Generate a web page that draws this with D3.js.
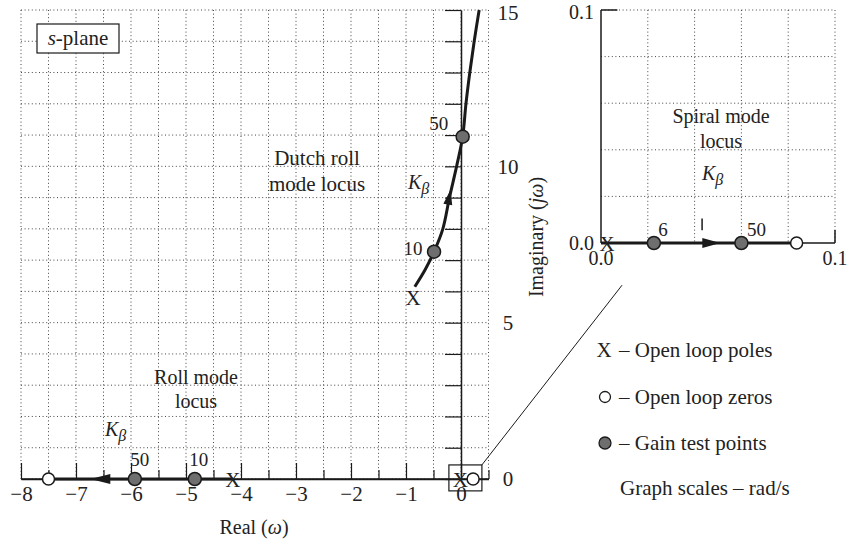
<!DOCTYPE html>
<html>
<head>
<meta charset="utf-8">
<script src="https://cdn.jsdelivr.net/npm/d3@7/dist/d3.min.js"></script>
<style>
  html, body { margin: 0; padding: 0; background: #fff; }
  svg { display: block; }
  text { font-family: "Liberation Serif", "Times New Roman", serif; fill: #222; }
</style>
</head>
<body>
<svg id="chart" width="856" height="543"></svg>
<script>
// ---------- data ----------
const xTickValues = [-8, -7, -6, -5, -4, -3, -2, -1, 0];
const xMinorValues = [-7.5, -6.5, -5.5, -4.5, -3.5, -2.5, -1.5, -0.5, 0.5];
const yTickValues = [0, 5, 10, 15];
const yMinorValues = [1, 2, 3, 4, 6, 7, 8, 9, 11, 12, 13, 14];
const xGridValues = d3.range(-8, 0.51, 0.5);
const yGridValues = d3.range(0, 15.01, 1);

// Dutch roll mode locus (real, imaginary)
const dutchRollRe = [-0.84, -0.65, -0.49, -0.33, -0.21, -0.08, 0.03, 0.09, 0.16, 0.24, 0.33];
const dutchRollIm = [6.15, 6.7, 7.27, 8.0, 9.0, 10.0, 10.95, 12.0, 13.0, 14.0, 15.0];
// Roll mode locus along real axis
const rollRe = [-7.5, -4.15];
// Main gain test points
const gainRe = [-0.49, 0.03, -5.93, -4.84];
const gainIm = [7.27, 10.95, 0, 0];
const gainLabels = ["10", "50", "50", "10"];
// Open loop poles / zeros (main plot)
const poleRe = [-0.87, -4.15, -0.01];
const poleIm = [5.8, 0, 0];
const zeroRe = [-7.5, 0.22];
const zeroIm = [0, 0];

// Spiral mode inset
const insetTicks = [0.0, 0.1];
const insetGrid = [0, 0.02, 0.04, 0.06, 0.08, 0.1];
const spiralRe = [0, 0.0836];
const spiralGainRe = [0.0226, 0.06];
const spiralGainLabels = ["6", "50"];
const spiralZeroRe = [0.0836];
const spiralPoleRe = [0];

// ---------- scales ----------
const svg = d3.select("#chart");
const x = d3.scaleLinear().domain([-8, 0.5]).range([21, 488.5]);
const y = d3.scaleLinear().domain([0, 15]).range([479, 10]);
const xi = d3.scaleLinear().domain([0, 0.1]).range([601, 835]);
const yi = d3.scaleLinear().domain([0, 0.1]).range([243, 10]);

const ink = "#1a1a1a";
const dotStyle = sel => sel.attr("stroke", "#444").attr("stroke-width", 1).attr("stroke-dasharray", "1,2.6");

// ---------- main grid ----------
const grid = svg.append("g");
grid.selectAll(".vg").data(xGridValues).join("line")
  .attr("x1", d => x(d)).attr("x2", d => x(d)).attr("y1", y(15)).attr("y2", y(0)).call(dotStyle);
grid.selectAll(".hg").data(yGridValues).join("line")
  .attr("x1", x(-8)).attr("x2", x(0.5)).attr("y1", d => y(d)).attr("y2", d => y(d)).call(dotStyle);

// ---------- main axes ----------
const fmtMinus = d => (d < 0 ? "\u2212" + Math.abs(d) : String(d));
const xAxis = svg.append("g").attr("transform", `translate(0,${y(0)})`)
  .call(d3.axisBottom(x).tickValues(xTickValues).tickSizeInner(-16).tickSizeOuter(0).tickPadding(7).tickFormat(fmtMinus));
xAxis.select(".domain").attr("stroke", ink).attr("stroke-width", 1.5);
xAxis.selectAll(".tick line").attr("stroke", ink).attr("stroke-width", 1.2);
xAxis.selectAll(".tick text").attr("font-size", 21).attr("font-family", "Liberation Serif").attr("fill", "#222");
const xMinor = svg.append("g").attr("transform", `translate(0,${y(0)})`)
  .call(d3.axisBottom(x).tickValues(xMinorValues).tickSizeInner(-9).tickSizeOuter(0).tickFormat(""));
xMinor.select(".domain").remove();
xMinor.selectAll(".tick line").attr("stroke", ink).attr("stroke-width", 1.2);
svg.append("line").attr("x1", x(-8)).attr("x2", x(0.5)).attr("y1", y(0)).attr("y2", y(0))
  .attr("stroke", ink).attr("stroke-width", 1.5);

const yAxis = svg.append("g").attr("transform", `translate(${x(0)},0)`)
  .call(d3.axisRight(y).tickValues(yTickValues.concat(yMinorValues)).tickSizeInner(-16).tickSizeOuter(0).tickPadding(40)
    .tickFormat(d => yTickValues.includes(d) ? String(d) : ""));
yAxis.select(".domain").attr("stroke", ink).attr("stroke-width", 1.5);
yAxis.selectAll(".tick line").attr("stroke", ink).attr("stroke-width", 1.2);
yAxis.selectAll(".tick text").attr("font-size", 21).attr("font-family", "Liberation Serif").attr("fill", "#222")
  .attr("text-anchor", "middle").attr("x", 47).attr("dy", d => d === 15 ? "0.45em" : "0.32em");

// axis titles
const realLabel = svg.append("text").attr("x", 254).attr("y", 534).attr("text-anchor", "middle").attr("font-size", 20);
realLabel.append("tspan").text("Real (");
realLabel.append("tspan").attr("font-style", "italic").text("\u03C9");
realLabel.append("tspan").text(")");

const imagLabel = svg.append("text").attr("transform", "translate(543,237) rotate(-90)").attr("text-anchor", "middle").attr("font-size", 20);
imagLabel.append("tspan").text("Imaginary (");
imagLabel.append("tspan").attr("font-style", "italic").text("j\u03C9");
imagLabel.append("tspan").text(")");

// ---------- s-plane box ----------
svg.append("rect").attr("x", 37).attr("y", 24).attr("width", 82).attr("height", 29)
  .attr("fill", "#fff").attr("stroke", ink).attr("stroke-width", 1.2);
const sp = svg.append("text").attr("x", 78).attr("y", 45).attr("text-anchor", "middle").attr("font-size", 21);
sp.append("tspan").attr("font-style", "italic").text("s");
sp.append("tspan").text("-plane");

// ---------- loci ----------
const lineMain = d3.line().x(d => x(d[0])).y(d => y(d[1])).curve(d3.curveCatmullRom);
svg.append("path").datum(dutchRollRe.map((r, k) => [r, dutchRollIm[k]]))
  .attr("d", lineMain).attr("fill", "none").attr("stroke", ink).attr("stroke-width", 3);
svg.append("path").datum(rollRe.map(r => [r, 0]))
  .attr("d", lineMain).attr("fill", "none").attr("stroke", ink).attr("stroke-width", 3);

// arrows
function arrow(g, x0, y0, x1, y1, len, wid) {
  const a = Math.atan2(y1 - y0, x1 - x0);
  const bx = x1 - len * Math.cos(a), by = y1 - len * Math.sin(a);
  const px = -Math.sin(a) * wid / 2, py = Math.cos(a) * wid / 2;
  g.append("path").attr("d", `M${x1},${y1}L${bx + px},${by + py}L${bx - px},${by - py}Z`).attr("fill", ink);
}
const arrowsMain = [{ from: [-0.27, 8.5], to: [-0.19, 9.25], len: 15, wid: 9 }, { from: [-6.2, 0], to: [-6.74, 0], len: 20, wid: 10 }];
arrowsMain.forEach(a => arrow(svg, x(a.from[0]), y(a.from[1]), x(a.to[0]), y(a.to[1]), a.len, a.wid));

// zoom box and connector
const zoomBox = { re0: -0.22, re1: 0.38, im0: -0.38, im1: 0.45 };
svg.append("rect").attr("x", x(zoomBox.re0)).attr("y", y(zoomBox.im1))
  .attr("width", x(zoomBox.re1) - x(zoomBox.re0)).attr("height", y(zoomBox.im0) - y(zoomBox.im1))
  .attr("fill", "none").attr("stroke", ink).attr("stroke-width", 1.2);
const connectorEnd = [0.009, -0.0181];
svg.append("line").attr("x1", x(zoomBox.re1)).attr("y1", y(zoomBox.im1))
  .attr("x2", xi(connectorEnd[0])).attr("y2", yi(connectorEnd[1])).attr("stroke", ink).attr("stroke-width", 1);

// poles
svg.selectAll(".poleMain").data(poleRe.map((r, k) => [r, poleIm[k]])).join("text")
  .attr("x", d => x(d[0])).attr("y", d => y(d[1])).attr("dy", "0.36em")
  .attr("text-anchor", "middle").attr("font-size", 21).text("X");
// zeros
svg.selectAll(".zeroMain").data(zeroRe.map((r, k) => [r, zeroIm[k]])).join("circle")
  .attr("cx", d => x(d[0])).attr("cy", d => y(d[1])).attr("r", 6)
  .attr("fill", "#fff").attr("stroke", ink).attr("stroke-width", 1.5);
// gain points
svg.selectAll(".gainMain").data(gainRe.map((r, k) => [r, gainIm[k]])).join("circle")
  .attr("cx", d => x(d[0])).attr("cy", d => y(d[1])).attr("r", 6.5)
  .attr("fill", "#6e6e6e").attr("stroke", ink).attr("stroke-width", 1.5);
// gain labels
const gainLabelOffsets = [[-21, -3], [-24, -13], [5, -20], [4, -20]];
svg.selectAll(".gainLab").data(gainLabels).join("text")
  .attr("x", (d, k) => x(gainRe[k]) + gainLabelOffsets[k][0])
  .attr("y", (d, k) => y(gainIm[k]) + gainLabelOffsets[k][1])
  .attr("dy", "0.35em").attr("text-anchor", "middle").attr("font-size", 19).text(d => d);

// K_beta labels
function kbeta(xp, yp, size) {
  const t = svg.append("text").attr("x", xp).attr("y", yp).attr("font-size", size);
  t.append("tspan").attr("font-style", "italic").text("K");
  t.append("tspan").attr("font-style", "italic").attr("font-size", size * 0.8).attr("dy", 5).text("\u03B2");
}
kbeta(408, 189, 20);
kbeta(105, 436, 20);
kbeta(702, 180, 20);

// mode labels
function multi(xp, yp, lines, lh, fs) {
  const t = svg.append("text").attr("x", xp).attr("y", yp).attr("text-anchor", "middle").attr("font-size", fs);
  lines.forEach((l, k) => t.append("tspan").attr("x", xp).attr("dy", k === 0 ? 0 : lh).text(l));
}
multi(317, 165, ["Dutch roll", "mode locus"], 26, 21);
multi(196, 384, ["Roll mode", "locus"], 24, 20);
multi(721, 123, ["Spiral mode", "locus"], 25, 20);

// ---------- inset ----------
const ig = svg.append("g");
ig.selectAll(".ivg").data(insetGrid.slice(1)).join("line")
  .attr("x1", d => xi(d)).attr("x2", d => xi(d)).attr("y1", yi(0.1)).attr("y2", yi(0)).call(dotStyle);
ig.selectAll(".ihg").data(insetGrid.slice(1)).join("line")
  .attr("x1", xi(0)).attr("x2", xi(0.1)).attr("y1", d => yi(d)).attr("y2", d => yi(d)).call(dotStyle);
ig.append("line").attr("x1", xi(0)).attr("x2", xi(0)).attr("y1", yi(0)).attr("y2", yi(0.1)).attr("stroke", ink).attr("stroke-width", 1.5);
ig.append("line").attr("x1", xi(0)).attr("x2", xi(0.007)).attr("y1", yi(0.1)).attr("y2", yi(0.1)).attr("stroke", ink).attr("stroke-width", 1.5);
ig.append("line").attr("x1", xi(0)).attr("x2", xi(0.1)).attr("y1", yi(0)).attr("y2", yi(0)).attr("stroke", ink).attr("stroke-width", 1.5);
ig.append("line").attr("x1", xi(0.1)).attr("x2", xi(0.1)).attr("y1", yi(0)).attr("y2", yi(0.0056)).attr("stroke", ink).attr("stroke-width", 1.5);
ig.append("line").attr("x1", xi(0.0432)).attr("x2", xi(0.0432)).attr("y1", yi(0.0055)).attr("y2", yi(0.0105)).attr("stroke", ink).attr("stroke-width", 1.5);
ig.selectAll(".ixl").data(insetTicks).join("text")
  .attr("x", d => xi(d)).attr("y", yi(0) + 22).attr("text-anchor", "middle").attr("font-size", 20)
  .text(d => d.toFixed(1));
ig.selectAll(".iyl").data(insetTicks).join("text")
  .attr("x", xi(0) - 7).attr("y", d => yi(d)).attr("dy", d => d === 0 ? "0.35em" : "0.45em").attr("text-anchor", "end").attr("font-size", 20)
  .text(d => d.toFixed(1));
ig.append("path").datum(spiralRe.map(r => [r, 0]))
  .attr("d", d3.line().x(d => xi(d[0])).y(d => yi(d[1])))
  .attr("fill", "none").attr("stroke", ink).attr("stroke-width", 3);
arrow(ig, xi(0.043), yi(0), xi(0.051), yi(0), 18, 10);
ig.selectAll(".ipole").data(spiralPoleRe).join("text")
  .attr("x", d => xi(d) + 6).attr("y", yi(0)).attr("dy", "0.36em").attr("text-anchor", "middle").attr("font-size", 21).text("X");
ig.selectAll(".igain").data(spiralGainRe).join("circle")
  .attr("cx", d => xi(d)).attr("cy", yi(0)).attr("r", 6.5)
  .attr("fill", "#6e6e6e").attr("stroke", ink).attr("stroke-width", 1.5);
ig.selectAll(".izero").data(spiralZeroRe).join("circle")
  .attr("cx", d => xi(d)).attr("cy", yi(0)).attr("r", 6)
  .attr("fill", "#fff").attr("stroke", ink).attr("stroke-width", 1.5);
const spiralLabOff = [[9, -14], [15, -14]];
ig.selectAll(".iglab").data(spiralGainLabels).join("text")
  .attr("x", (d, k) => xi(spiralGainRe[k]) + spiralLabOff[k][0])
  .attr("y", (d, k) => yi(0) + spiralLabOff[k][1])
  .attr("dy", "0.35em").attr("text-anchor", "middle").attr("font-size", 19).text(d => d);

// ---------- legend ----------
const legendItems = ["\u2013 Open loop poles", "\u2013 Open loop zeros", "\u2013 Gain test points"];
const legY = [350, 397, 443];
const lg = svg.append("g");
lg.selectAll(".lt").data(legendItems).join("text")
  .attr("x", 619).attr("y", (d, k) => legY[k]).attr("dy", "0.35em").attr("font-size", 21).text(d => d);
lg.append("text").attr("x", 604).attr("y", legY[0]).attr("dy", "0.35em").attr("text-anchor", "middle").attr("font-size", 21).text("X");
lg.append("circle").attr("cx", 605).attr("cy", legY[1]).attr("r", 5.5).attr("fill", "#fff").attr("stroke", ink).attr("stroke-width", 1.3);
lg.append("circle").attr("cx", 605).attr("cy", legY[2]).attr("r", 6).attr("fill", "#6e6e6e").attr("stroke", ink).attr("stroke-width", 1.3);
lg.append("text").attr("x", 620).attr("y", 488).attr("dy", "0.35em").attr("font-size", 21).text("Graph scales \u2013 rad/s");
</script>
</body>
</html>
